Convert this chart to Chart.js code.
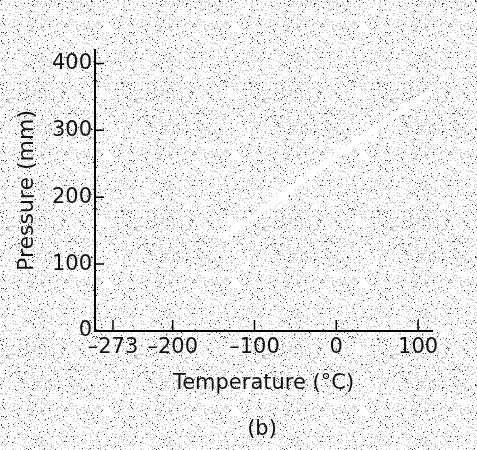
<!DOCTYPE html>
<html lang="en">

<head>
  <meta charset="UTF-8">
  <title>Pressure vs Temperature (b)</title>
  <script src="https://cdn.jsdelivr.net/npm/chart.js"></script>
  <style>
    html, body { margin: 0; padding: 0; background: #fff; }
    .chart-box { position: relative; width: 477px; height: 450px; }
    /* panel letter sits under the x-axis title, not centred on the canvas */
    .panel-label {
      position: absolute;
      left: 232px;
      width: 60px;
      top: 414px;
      text-align: center;
      font: 21px "DejaVu Sans", "Liberation Sans", sans-serif;
      color: #111;
      line-height: 28px;
    }
  </style>
</head>

<body>
  <div class="chart-box">
    <canvas id="gas-chart"></canvas>
    <div class="panel-label">(b)</div>
  </div>

  <script>
    // Values
    const temperatures = [-140, -100, 0, 100, 118];   // °C
    const pressures = [140, 172, 262, 345, 360];       // mm
    const xTickValues = [-273, -200, -100, 0, 100];
    const yTickValues = [0, 100, 200, 300, 400];

    const fontFamily = '"DejaVu Sans", "Liberation Sans", sans-serif';

    // Stippled scan-like background (deterministic hash, no randomness)
    function makeStipple() {
      const size = 128;
      const c = document.createElement('canvas');
      c.width = size; c.height = size;
      const g = c.getContext('2d');
      g.fillStyle = '#ffffff';
      g.fillRect(0, 0, size, size);
      for (let y = 0; y < size; y++) {
        for (let x = 0; x < size; x++) {
          let h = (x * 374761393 + y * 668265263) | 0;
          h = (h ^ (h >>> 13)) * 1274126177 | 0;
          h = (h ^ (h >>> 16)) >>> 0;
          const v = h % 1000;
          if (v < 22) { g.fillStyle = '#333'; g.fillRect(x, y, 1, 1); }
          else if (v < 150) { g.fillStyle = '#c2c2c2'; g.fillRect(x, y, 1, 1); }
        }
      }
      return c;
    }

    const stipplePlugin = {
      id: 'stipple',
      beforeDraw(chart) {
        const ctx = chart.ctx;
        if (!chart._stipple) chart._stipple = ctx.createPattern(makeStipple(), 'repeat');
        ctx.save();
        ctx.fillStyle = chart._stipple;
        ctx.fillRect(0, 0, chart.width, chart.height);
        ctx.restore();
      }
    };

    // Short tick marks pointing into the plot
    const innerTicks = {
      id: 'innerTicks',
      afterDatasetsDraw(chart) {
        const { ctx, scales: { x, y } } = chart;
        ctx.save();
        ctx.strokeStyle = '#000';
        ctx.lineWidth = 1.5;
        ctx.beginPath();
        xTickValues.forEach(v => {
          const px = x.getPixelForValue(v);
          ctx.moveTo(px, y.bottom);
          ctx.lineTo(px, y.bottom - 11);
        });
        yTickValues.forEach(v => {
          if (v === 0) return;
          const py = y.getPixelForValue(v);
          ctx.moveTo(x.left, py);
          ctx.lineTo(x.left + 9, py);
        });
        ctx.stroke();
        ctx.restore();
      }
    };

    new Chart(document.getElementById('gas-chart'), {
      type: 'line',
      data: {
        datasets: [{
          data: temperatures.map((t, i) => ({ x: t, y: pressures[i] })),
          borderColor: '#ffffff',
          borderWidth: 6,
          pointRadius: 0,
          tension: 0
        }]
      },
      options: {
        responsive: true,
        maintainAspectRatio: false,
        animation: false,
        layout: { padding: { left: 14, right: 45, top: 50, bottom: 45 } },
        plugins: {
          legend: { display: false },
          tooltip: { enabled: false },
          title: { display: false }
        },
        scales: {
          x: {
            type: 'linear',
            min: -295,
            max: 117,
            afterBuildTicks: s => { s.ticks = xTickValues.map(v => ({ value: v })); },
            afterFit: s => { s.height = 74; },
            grid: { display: false, drawTicks: false },
            border: { display: true, color: '#000', width: 2 },
            ticks: {
              color: '#111',
              padding: 4,
              font: { family: fontFamily, size: 21 },
              callback: v => (v < 0 ? '\u2013' + Math.abs(v) : String(v))
            },
            title: {
              display: true,
              text: 'Temperature (\u00B0C)',
              color: '#111',
              font: { family: fontFamily, size: 21 },
              padding: { top: 4, bottom: 9 }
            }
          },
          y: {
            type: 'linear',
            min: 0,
            max: 420,
            afterBuildTicks: s => { s.ticks = yTickValues.map(v => ({ value: v })); },
            afterFit: s => { s.width = 81; },
            grid: { display: false, drawTicks: false },
            border: { display: true, color: '#000', width: 2 },
            ticks: {
              color: '#111',
              padding: 3,
              font: { family: fontFamily, size: 21 }
            },
            title: {
              display: true,
              text: 'Pressure (mm)',
              color: '#111',
              font: { family: fontFamily, size: 22 },
              padding: { top: 0, bottom: 2 }
            }
          }
        }
      },
      plugins: [stipplePlugin, innerTicks]
    });
  </script>
</body>

</html>
